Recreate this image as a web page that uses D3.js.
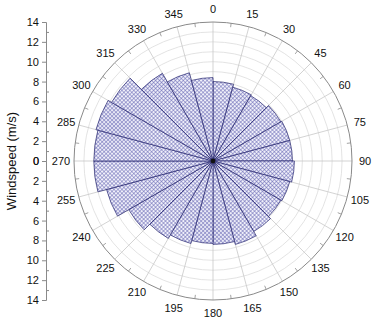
<!DOCTYPE html>
<html>
<head>
<meta charset="utf-8">
<script src="https://cdn.jsdelivr.net/npm/d3@7/dist/d3.min.js"></script>
<style>
body{margin:0;background:#fff;}
svg{display:block;font-family:"Liberation Sans",Arial,sans-serif;}
</style>
</head>
<body>
<div id="chart"></div>
<script>
// wind rose: 15 degree bins, speed in m/s
var binStarts=[0,15,30,45,60,75,90,105,120,135,150,165,180,195,210,225,240,255,270,285,300,315,330,345];
var speeds=[8.0,7.7,7.6,7.9,8.0,8.0,8.2,8.0,7.9,8.2,8.7,8.4,8.3,8.6,9.0,9.8,11.1,12.0,12.0,12.2,11.8,10.2,9.2,8.4];
var angleLabels=[0,15,30,45,60,75,90,105,120,135,150,165,180,195,210,225,240,255,270,285,300,315,330,345];
var speedTicks=[0,2,4,6,8,10,12,14];
var minorTicks=[1,3,5,7,9,11,13];

var width=379, height=322;
var cx=213, cy=161, R=139; // polar centre and outer radius
var maxSpeed=14, binWidth=15;

var svg=d3.select("#chart").append("svg").attr("width",width).attr("height",height);

// fine blue crosshatch like the original fill
var defs=svg.append("defs");
var ps=2.8;
var pat=defs.append("pattern").attr("id","hatch")
	.attr("patternUnits","userSpaceOnUse").attr("width",ps).attr("height",ps)
	.attr("patternTransform","rotate(45)");
pat.append("rect").attr("width",ps).attr("height",ps).attr("fill","#f0f0fa");
pat.append("line").attr("x1",0).attr("y1",0).attr("x2",ps).attr("y2",0).attr("stroke","#6262b2").attr("stroke-width",1);
pat.append("line").attr("x1",0).attr("y1",0).attr("x2",0).attr("y2",ps).attr("stroke","#6262b2").attr("stroke-width",1);

var rScale=d3.scaleLinear().domain([0,maxSpeed]).range([0,R]);
var toRad=function(a){return a*Math.PI/180;};

var g=svg.append("g").attr("transform","translate("+cx+","+cy+")");

// concentric grid every 1 m/s
g.selectAll("circle.grid").data(d3.range(1,maxSpeed)).enter().append("circle")
	.attr("class","grid").attr("r",function(d){return rScale(d);})
	.attr("fill","none").attr("stroke","#dcdcdc").attr("stroke-width",0.8);

// spokes
g.selectAll("line.spoke").data(angleLabels).enter().append("line")
	.attr("x1",0).attr("y1",0)
	.attr("x2",function(d){return R*Math.sin(toRad(d));})
	.attr("y2",function(d){return -R*Math.cos(toRad(d));})
	.attr("stroke","#c8c8c8").attr("stroke-width",0.8);

// bars
var arc=d3.arc().innerRadius(0)
	.outerRadius(function(d){return rScale(d.v);})
	.startAngle(function(d){return toRad(d.a);})
	.endAngle(function(d){return toRad(d.a+binWidth);});
var bins=binStarts.map(function(a,i){return {a:a,v:speeds[i]};});
g.selectAll("path.bar").data(bins).enter().append("path")
	.attr("class","bar").attr("d",arc)
	.attr("fill","url(#hatch)").attr("stroke","#24246e").attr("stroke-width",0.7);

g.append("circle").attr("r",2.4).attr("fill","#111");

// outer circle and its ticks
g.append("circle").attr("r",R).attr("fill","none").attr("stroke","#8a8a8a").attr("stroke-width",1);
g.selectAll("line.otick").data(angleLabels).enter().append("line")
	.attr("x1",function(d){return (R-4)*Math.sin(toRad(d+7.5));})
	.attr("y1",function(d){return -(R-4)*Math.cos(toRad(d+7.5));})
	.attr("x2",function(d){return R*Math.sin(toRad(d+7.5));})
	.attr("y2",function(d){return -R*Math.cos(toRad(d+7.5));})
	.attr("stroke","#8a8a8a").attr("stroke-width",0.8);

// angle labels
var labR=R+13;
g.selectAll("text.alab").data(angleLabels).enter().append("text")
	.attr("x",function(d){return labR*Math.sin(toRad(d));})
	.attr("y",function(d){return -labR*Math.cos(toRad(d));})
	.attr("dy","0.35em").attr("text-anchor","middle")
	.attr("font-size",11).attr("fill","#111")
	.text(function(d){return d;});

// left speed axis, mirrored around the centre
var axX=46;
var yUp=d3.scaleLinear().domain([0,maxSpeed]).range([cy,cy-R]);
var yDown=d3.scaleLinear().domain([0,maxSpeed]).range([cy,cy+R]);
[yUp,yDown].forEach(function(sc){
	var ax=svg.append("g").attr("transform","translate("+axX+",0)")
		.call(d3.axisLeft(sc).tickValues(speedTicks).tickSize(4).tickPadding(3).tickFormat(d3.format("d")));
	ax.select(".domain").attr("stroke","#8a8a8a");
	ax.selectAll(".tick line").attr("stroke","#8a8a8a");
	ax.selectAll("text").attr("font-size",11).attr("fill","#111").attr("font-family","Liberation Sans, Arial, sans-serif");
	var mn=svg.append("g").attr("transform","translate("+axX+",0)")
		.call(d3.axisRight(sc).tickValues(minorTicks).tickSize(3).tickFormat(""));
	mn.select(".domain").remove();
	mn.selectAll(".tick line").attr("stroke","#8a8a8a");
});

svg.append("text").attr("transform","translate(11,"+cy+") rotate(-90)")
	.attr("text-anchor","middle").attr("dy","0.35em")
	.attr("font-size",13).attr("fill","#111")
	.text("Windspeed (m/s)");
</script>
</body>
</html>
